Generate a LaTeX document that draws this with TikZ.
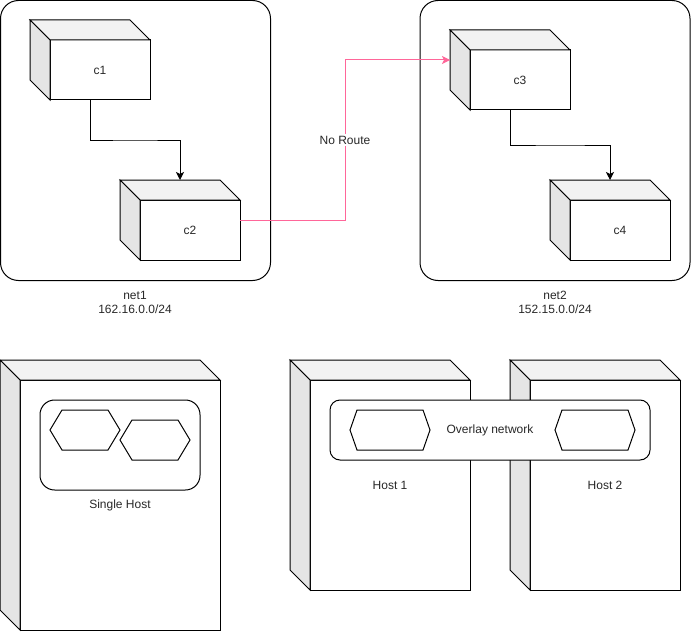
\documentclass[tikz,border=0pt]{standalone}
\usepackage{fontspec}
\setmainfont{Liberation Sans}
\usetikzlibrary{calc,arrows.meta}
\definecolor{topgray}{RGB}{242,242,242}
\definecolor{sidegray}{RGB}{229,229,229}
\definecolor{noroute}{RGB}{255,102,153}
\definecolor{ink}{RGB}{40,40,40}

% cube: name, top-left of the whole box, width, height, label
\newcommand{\drawcube}[6]{%
  \node[face, anchor=north west, minimum width={(#4-20)*0.75pt},
        minimum height={(#5-20)*0.75pt}] (#1) at (#2+20,#3+20) {#6};
  \filldraw[topface] (#1.north west) -- ++(-20,-20) -- ++(#4-20,0)
    -- (#1.north east) -- cycle;
  \filldraw[sideface] (#1.north west) -- ++(-20,-20) -- ++(0,#5-20)
    -- (#1.south west) -- cycle;
  \coordinate (#1-top) at ($(#1.north)+(-10,-20)$);
  \coordinate (#1-bot) at ($(#1.south)+(-10,0)$);
}
% hexagon: left, top, width, height, inset
\newcommand{\drawhex}[5]{%
  \draw[hexline] (#1,#2+#4/2) -- (#1+#5,#2) -- (#1+#3-#5,#2)
    -- (#1+#3,#2+#4/2) -- (#1+#3-#5,#2+#4) -- (#1+#5,#2+#4) -- cycle;
}

\begin{document}
\begin{tikzpicture}[x=0.75pt, y=-0.75pt, line width=0.75pt,
  every node/.style={font=\fontsize{9}{10.5}\selectfont, text=ink},
  face/.style={draw, fill=white, outer sep=0pt},
  topface/.style={draw, fill=topgray, line join=miter},
  sideface/.style={draw, fill=sidegray, line join=miter},
  netbox/.style={draw, fill=white, rounded corners=13.5pt, outer sep=0pt,
    anchor=north west, minimum width=202.5pt, minimum height=210pt},
  netlabel/.style={align=center},
  hexline/.style={draw, fill=white},
  flow/.style={-{Stealth[length=6pt, width=6pt, inset=1.5pt]}},
  blocked/.style={draw=noroute, -{Stealth[length=6pt, width=6pt, inset=1.5pt]}},
  routelabel/.style={fill=white, inner sep=1pt}]
  \useasboundingbox (0,0) rectangle (691,631);

  % the two networks
  \node[netbox] (net1) at (0.5,0.5) {};
  \node[netbox] (net2) at (420,0.5) {};
  \node[netlabel] (net1-label) at (135,302) {net1\\162.16.0.0/24};
  \node[netlabel] (net2-label) at (555,302) {net2\\152.15.0.0/24};

  % containers
  \drawcube{c1}{30}{20}{120}{80}{c1}
  \drawcube{c2}{120}{180}{120}{80}{c2}
  \drawcube{c3}{450}{30}{120}{80}{c3}
  \drawcube{c4}{550}{180}{120}{80}{c4}
  \coordinate (c2-out) at ($(c2.east)+(0,-10)$);
  \coordinate (c3-in) at ($(c3.west)+(-20,-20)$);

  \draw[flow] (c1-bot) |- ($(c1-bot)!0.5!(c2-top)$) -| (c2-top);
  \draw[flow] (c3-bot) |- ($(c3-bot)!0.5!(c4-top)$) -| (c4-top);
  \draw[blocked] (c2-out) -- ++(105,0) |- (c3-in)
    node[routelabel, pos=0.25] (noroute) {No Route};

  % single host
  \drawcube{single}{0}{360}{220}{270}{}
  \draw[rounded corners=11pt, fill=white] (40,400) rectangle (200,490);
  \drawhex{50}{410}{70}{40}{12}
  \drawhex{120}{420}{70}{40}{12}
  \node (single-label) at (120,505) {Single Host};

  % two hosts with an overlay network
  \drawcube{host1}{290}{360}{180}{230}{}
  \drawcube{host2}{510}{360}{170}{230}{}
  \node (host1-label) at (390,485) {Host 1};
  \node (host2-label) at (605,485) {Host 2};
  \node[draw, fill=white, rounded corners=7.5pt, minimum width=240pt,
        minimum height=45pt, outer sep=0pt] (overlaynet) at (490,430)
        {Overlay network};
  \drawhex{350}{410}{80}{40}{7}
  \drawhex{555}{410}{80}{40}{7}
\end{tikzpicture}
\end{document}
